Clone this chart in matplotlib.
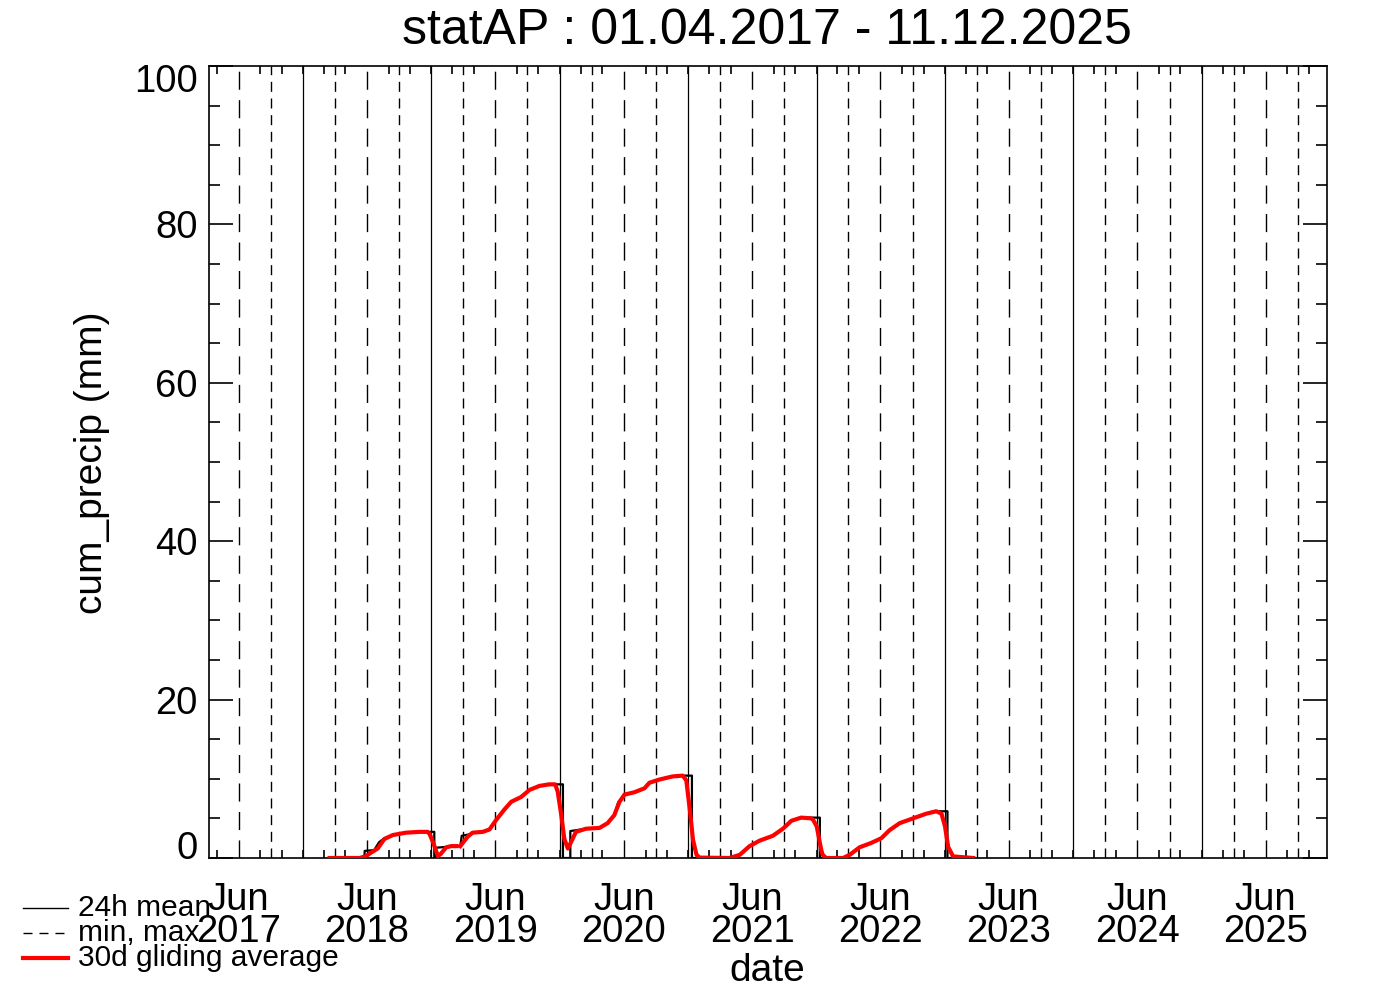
import numpy as np
import pandas as pd
import matplotlib
matplotlib.use("Agg")
import matplotlib.pyplot as plt
import matplotlib.dates as mdates
from matplotlib.lines import Line2D
from matplotlib.transforms import ScaledTranslation

plt.rcParams['font.family'] = ['Liberation Sans', 'DejaVu Sans']
plt.rcParams['lines.scale_dashes'] = False

# 30d gliding average (red); NaN = data gap
red_dates = ["2018-03-17", "2018-06-10", "2018-06-27", "2018-07-14", "2018-08-01",
             "2018-08-20", "2018-09-13", "2018-10-21", "2018-11-28", "2018-12-21",
             "2018-12-27", "2019-01-07", "2019-01-19", "2019-01-27", "2019-02-12",
             "2019-02-26", "2019-03-13", "2019-03-18", "2019-03-24", "2019-04-14",
             "2019-04-28", "2019-05-27", "2019-06-15", "2019-07-04", "2019-07-27",
             "2019-08-16", "2019-09-13", "2019-10-07", "2019-11-04", "2019-12-02",
             "2019-12-19", "2019-12-26", "2020-01-05", "2020-01-14", "2020-01-24",
             "2020-02-02", "2020-02-16", "2020-03-16", "2020-04-23", "2020-05-16",
             "2020-06-04", "2020-06-19", "2020-07-03", "2020-07-31", "2020-08-29",
             "2020-09-12", "2020-10-10", "2020-11-17", "2020-12-16", "2020-12-26",
             "2021-01-05", "2021-01-14", "2021-01-24", "2021-02-02", "2021-04-28",
             "2021-05-27", "2021-06-24", "2021-07-23", "2021-08-29", "2021-09-27",
             "2021-10-21", "2021-11-18", "2021-12-17", "2021-12-22", "2022-01-01",
             "2022-01-05", "2022-01-10", "2022-01-14", "2022-01-18", "2022-01-28",
             "2022-03-17", "2022-04-05", "2022-05-03", "2022-06-05", "2022-07-04",
             "2022-07-27", "2022-08-25", "2022-10-02", "2022-11-09", "2022-12-07",
             "2022-12-22", "2023-01-01", "2023-01-10", "2023-01-24", "2023-03-22"]
red_vals = [0, 0, 0.2, 0.7, 1.2,
            2.4, 2.9, 3.2, 3.3, 3.3,
            3.0, 1.8, 0.25, 0.5, 1.35,
            1.5, 1.5, np.nan, 1.5, 2.7,
            3.2, 3.3, 3.6, 4.8, 6.1,
            7.1, 7.7, 8.6, 9.1, 9.3,
            9.3, 8.4, 5.5, 2.4, 1.2,
            2.0, 3.3, 3.7, 3.8, 4.4,
            5.4, 7.1, 8.0, 8.3, 8.8,
            9.5, 9.9, 10.3, 10.4, 9.8,
            6.1, 2.3, 0.4, 0.05, 0,
            0.4, 1.5, 2.2, 2.8, 3.7,
            4.7, 5.1, 5.0, 4.8, 4.0,
            3.1, 1.9, 1.0, 0.4, 0,
            0, 0.4, 1.35, 1.9, 2.5,
            3.5, 4.4, 5.0, 5.6, 5.9,
            5.6, 4.0, 1.4, 0.2, 0]

# 24h mean (black)
black_dates = ["2018-03-17", "2018-06-24", "2018-06-25", "2018-07-22", "2018-08-05",
               "2018-08-20", "2018-09-13", "2018-10-21", "2018-11-28", "2019-01-09",
               "2019-01-09", "2019-01-14", "2019-01-14", "2019-02-12", "2019-03-13",
               "2019-03-18", "2019-03-24", "2019-03-28", "2019-04-20", "2019-04-28",
               "2019-05-27", "2019-06-15", "2019-07-04", "2019-07-27", "2019-08-16",
               "2019-09-13", "2019-10-07", "2019-11-04", "2019-12-02", "2020-01-10",
               "2020-01-10", "2020-01-31", "2020-01-31", "2020-03-16", "2020-04-23",
               "2020-05-16", "2020-06-04", "2020-06-15", "2020-07-03", "2020-07-31",
               "2020-08-29", "2020-09-10", "2020-10-10", "2020-11-17", "2020-12-16",
               "2021-01-11", "2021-01-11", "2021-04-28", "2021-05-27", "2021-06-24",
               "2021-07-23", "2021-08-29", "2021-09-27", "2021-10-21", "2021-11-18",
               "2022-01-10", "2022-01-10", "2022-03-17", "2022-04-05", "2022-05-03",
               "2022-06-05", "2022-07-04", "2022-07-27", "2022-08-25", "2022-10-02",
               "2022-11-09", "2022-12-07", "2023-01-08", "2023-01-08", "2023-03-22"]
black_vals = [0, 0, 0.9, 1.0, 2.0,
              2.5, 2.9, 3.2, 3.3, 3.3,
              0, 0, 1.3, 1.4, 1.5,
              np.nan, 1.5, 2.8, 3.0, 3.2,
              3.3, 3.6, 4.8, 6.1, 7.1,
              7.7, 8.6, 9.1, 9.3, 9.3,
              0, 0, 3.4, 3.7, 3.8,
              4.4, 5.4, 7.0, 8.0, 8.3,
              8.8, 9.5, 9.9, 10.3, 10.4,
              10.4, 0, 0, 0.4, 1.5,
              2.2, 2.8, 3.7, 4.7, 5.1,
              5.1, 0, 0, 0.4, 1.35,
              1.9, 2.5, 3.5, 4.4, 5.0,
              5.6, 5.9, 5.9, 0, 0]

years = list(range(2017, 2026))
tick_labels = ["Jun\n%d" % y for y in years]

fig = plt.figure(figsize=(13.88, 9.92), dpi=100)
ax = fig.add_axes([209 / 1388, 1 - 858 / 992, (1326.7 - 209) / 1388, (858 - 66) / 992])

# vertical grid: Jan 1 solid, Apr/Oct short dashes, Jul long dashes
for y in years + [2026]:
    ax.axvline(pd.Timestamp(f"{y}-01-01"), color="k", lw=0.9, zorder=1)
    for m in ("04", "10"):
        ax.axvline(pd.Timestamp(f"{y}-{m}-01"), color="k", lw=1.0,
                   dashes=(7.2, 4.8), zorder=1)
    ax.axvline(pd.Timestamp(f"{y}-07-01"), color="k", lw=1.0,
               dashes=(13, 7.5), zorder=1)

ax.plot(pd.to_datetime(black_dates), black_vals, color="k", lw=1.6, zorder=2)
ax.plot(pd.to_datetime(red_dates), red_vals, color="#ff0000", lw=3.0, zorder=3)

ax.set_xlim(pd.Timestamp("2017-04-08"), pd.Timestamp("2025-12-22"))
ax.set_ylim(0, 100)

ax.set_xticks([pd.Timestamp(f"{y}-07-01") for y in years])
ax.set_xticklabels(tick_labels, linespacing=0.86)
ax.xaxis.set_minor_locator(mdates.MonthLocator(bymonth=[1, 3, 5, 7, 9, 11]))
ax.tick_params(axis="x", which="major", length=0, pad=17.5, labelsize=27.5)
ax.tick_params(axis="x", which="minor", length=5.5, width=1.2, direction="in",
               top=True, bottom=True)

ax.set_yticks(np.arange(0, 101, 20))
ax.set_yticks(np.arange(0, 101, 5), minor=True)
ax.tick_params(axis="y", which="major", length=17, width=1.2, direction="in",
               left=True, right=True, pad=8, labelsize=27.5)
ax.tick_params(axis="y", which="minor", length=8, width=1.2, direction="in",
               left=True, right=True)
for sp in ax.spines.values():
    sp.set_linewidth(1.2)

fig.canvas.draw()
ylabs = ax.get_yticklabels()
ylabs[0].set_transform(ylabs[0].get_transform() + ScaledTranslation(0, 13 / 100, fig.dpi_scale_trans))
ylabs[-1].set_transform(ylabs[-1].get_transform() + ScaledTranslation(0, -12 / 100, fig.dpi_scale_trans))

fig.text(767 / 1388, 1 - 31 / 992, "statAP : 01.04.2017 - 11.12.2025",
         ha="center", va="center", fontsize=36)
fig.text(767 / 1388, 1 - 971 / 992, "date", ha="center", va="center", fontsize=28)
fig.text(92 / 1388, 1 - 463 / 992, "cum_precip (mm)", ha="center", va="center",
         rotation=90, fontsize=28)

# legend below the axes
leg = [("24h mean", dict(color="k", lw=1.0)),
       ("min, max", dict(color="k", lw=1.0, dashes=(6.5, 5))),
       ("30d gliding average", dict(color="#ff0000", lw=3.0))]
for i, (txt, kw) in enumerate(leg):
    yy = 1 - (908 + 25 * i) / 992
    fig.add_artist(Line2D([23 / 1388, 68 / 1388], [yy, yy], transform=fig.transFigure, **kw))
    fig.text(78 / 1388, yy, txt, ha="left", va="center", fontsize=21.5)

fig.savefig("out.png", dpi=100)
